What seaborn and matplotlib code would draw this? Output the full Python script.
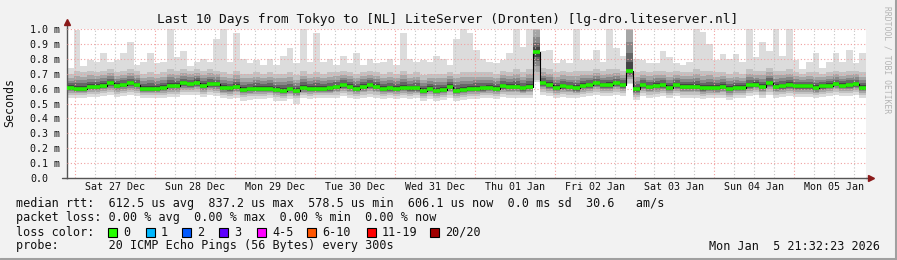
import numpy as np
import pandas as pd
import matplotlib
matplotlib.use("Agg")
import matplotlib.pyplot as plt
import matplotlib.dates as mdates
from matplotlib.patches import Rectangle
from matplotlib.lines import Line2D
import seaborn as sns

# ---------------- data ----------------
title = "Last 10 Days from Tokyo to [NL] LiteServer (Dronten) [lg-dro.liteserver.nl]"
start = "2025-12-26 21:32"
end = "2026-01-05 21:32"
bin_hours = 2

median = [0.606, 0.600, 0.600, 0.613, 0.613, 0.620, 0.635, 0.620, 0.625, 0.635,
          0.625, 0.600, 0.600, 0.600, 0.605, 0.620, 0.618, 0.635, 0.630, 0.640,
          0.620, 0.631, 0.630, 0.606, 0.602, 0.610, 0.591, 0.595, 0.600, 0.600,
          0.600, 0.591, 0.586, 0.595, 0.585, 0.605, 0.600, 0.600, 0.600, 0.602,
          0.610, 0.624, 0.613, 0.600, 0.613, 0.624, 0.613, 0.598, 0.602, 0.598,
          0.607, 0.602, 0.602, 0.586, 0.598, 0.586, 0.591, 0.613, 0.586, 0.591,
          0.598, 0.600, 0.602, 0.607, 0.598, 0.617, 0.613, 0.610, 0.602, 0.613,
          0.843, 0.635, 0.624, 0.607, 0.615, 0.610, 0.602, 0.620, 0.624, 0.635,
          0.624, 0.624, 0.635, 0.624, 0.720, 0.595, 0.624, 0.610, 0.620, 0.624,
          0.607, 0.624, 0.613, 0.613, 0.613, 0.602, 0.607, 0.605, 0.613, 0.598,
          0.607, 0.607, 0.622, 0.627, 0.613, 0.635, 0.613, 0.617, 0.624, 0.615,
          0.615, 0.615, 0.605, 0.615, 0.620, 0.633, 0.620, 0.624, 0.630, 0.607]

ping_max = [0.74, 0.99, 0.75, 0.79, 0.78, 0.84, 0.78, 0.79, 0.84, 0.915,
            0.76, 0.78, 0.84, 0.77, 0.78, 1.00, 0.81, 0.85, 0.75, 0.78,
            0.80, 0.78, 0.93, 1.00, 0.78, 0.97, 0.80, 0.77, 0.79, 0.76,
            0.80, 0.76, 0.82, 0.87, 0.77, 1.00, 0.78, 0.97, 0.78, 0.80,
            0.76, 0.82, 0.77, 0.84, 0.76, 0.80, 0.77, 0.78, 0.80, 0.76,
            0.97, 0.80, 0.78, 0.79, 0.78, 0.82, 0.80, 0.76, 0.93, 1.00,
            0.97, 0.86, 0.80, 0.78, 0.77, 0.79, 0.84, 1.00, 0.88, 1.00,
            1.05, 0.85, 0.86, 0.77, 0.79, 0.77, 1.00, 0.79, 0.79, 0.86,
            0.78, 1.00, 0.87, 0.82, 1.10, 0.80, 0.79, 0.77, 0.77, 0.85,
            0.81, 0.77, 0.76, 0.78, 1.00, 0.98, 0.90, 0.79, 0.83, 0.80,
            0.83, 0.78, 1.00, 0.81, 0.915, 0.85, 1.00, 0.82, 1.00, 0.79,
            0.73, 0.78, 0.84, 0.74, 0.78, 0.84, 0.78, 0.86, 0.77, 0.84]

ping_hi = [0.70, 0.72, 0.71, 0.72, 0.71, 0.72, 0.73, 0.71, 0.72, 0.73,
           0.72, 0.70, 0.71, 0.70, 0.71, 0.73, 0.72, 0.73, 0.72, 0.73,
           0.72, 0.73, 0.72, 0.71, 0.70, 0.72, 0.70, 0.70, 0.71, 0.70,
           0.71, 0.70, 0.70, 0.71, 0.69, 0.72, 0.70, 0.71, 0.70, 0.71,
           0.71, 0.72, 0.71, 0.70, 0.71, 0.72, 0.71, 0.70, 0.71, 0.70,
           0.72, 0.70, 0.71, 0.69, 0.70, 0.70, 0.70, 0.71, 0.70, 0.71,
           0.71, 0.71, 0.71, 0.71, 0.70, 0.72, 0.71, 0.73, 0.71, 0.73,
           1.05, 0.74, 0.73, 0.71, 0.72, 0.71, 0.72, 0.72, 0.72, 0.73,
           0.72, 0.73, 0.73, 0.72, 1.10, 0.71, 0.72, 0.71, 0.72, 0.72,
           0.71, 0.72, 0.71, 0.71, 0.73, 0.72, 0.72, 0.71, 0.71, 0.70,
           0.71, 0.70, 0.73, 0.72, 0.72, 0.74, 0.72, 0.72, 0.73, 0.71,
           0.70, 0.71, 0.71, 0.70, 0.71, 0.72, 0.71, 0.72, 0.72, 0.71]

ping_lo = [0.560, 0.555, 0.555, 0.565, 0.565, 0.570, 0.575, 0.565, 0.570, 0.575,
           0.570, 0.555, 0.555, 0.555, 0.560, 0.565, 0.565, 0.575, 0.575, 0.580,
           0.565, 0.575, 0.570, 0.555, 0.550, 0.560, 0.545, 0.550, 0.550, 0.550,
           0.555, 0.545, 0.540, 0.550, 0.535, 0.555, 0.550, 0.555, 0.555, 0.555,
           0.560, 0.570, 0.560, 0.550, 0.560, 0.565, 0.560, 0.550, 0.555, 0.550,
           0.555, 0.550, 0.555, 0.540, 0.550, 0.540, 0.545, 0.560, 0.540, 0.545,
           0.550, 0.550, 0.555, 0.555, 0.550, 0.565, 0.560, 0.560, 0.555, 0.560,
           0.660, 0.580, 0.570, 0.555, 0.565, 0.560, 0.555, 0.565, 0.570, 0.580,
           0.570, 0.570, 0.580, 0.570, 0.640, 0.545, 0.570, 0.560, 0.565, 0.570,
           0.555, 0.570, 0.560, 0.560, 0.560, 0.550, 0.555, 0.555, 0.560, 0.545,
           0.555, 0.555, 0.570, 0.575, 0.560, 0.580, 0.560, 0.565, 0.570, 0.565,
           0.565, 0.565, 0.555, 0.565, 0.570, 0.580, 0.570, 0.570, 0.575, 0.555]

ping_min = [0.540, 0.535, 0.535, 0.545, 0.545, 0.550, 0.555, 0.545, 0.550, 0.555,
            0.550, 0.535, 0.535, 0.535, 0.540, 0.545, 0.545, 0.555, 0.555, 0.560,
            0.545, 0.555, 0.550, 0.535, 0.530, 0.540, 0.520, 0.525, 0.530, 0.530,
            0.535, 0.520, 0.515, 0.530, 0.500, 0.535, 0.530, 0.535, 0.535, 0.535,
            0.540, 0.550, 0.540, 0.530, 0.540, 0.545, 0.540, 0.530, 0.535, 0.530,
            0.535, 0.530, 0.535, 0.515, 0.530, 0.520, 0.525, 0.540, 0.520, 0.525,
            0.530, 0.530, 0.535, 0.535, 0.530, 0.545, 0.540, 0.540, 0.535, 0.540,
            0.645, 0.560, 0.550, 0.535, 0.545, 0.540, 0.535, 0.545, 0.550, 0.560,
            0.550, 0.550, 0.560, 0.550, 0.630, 0.525, 0.550, 0.540, 0.545, 0.550,
            0.535, 0.550, 0.540, 0.540, 0.540, 0.530, 0.535, 0.535, 0.540, 0.525,
            0.535, 0.535, 0.550, 0.555, 0.540, 0.560, 0.540, 0.545, 0.550, 0.545,
            0.545, 0.545, 0.535, 0.545, 0.550, 0.560, 0.550, 0.550, 0.555, 0.535]

y_ticks = [0.0, 0.1, 0.2, 0.3, 0.4, 0.5, 0.6, 0.7, 0.8, 0.9, 1.0]
y_tick_labels = ["0.0", "0.1 m", "0.2 m", "0.3 m", "0.4 m", "0.5 m",
                 "0.6 m", "0.7 m", "0.8 m", "0.9 m", "1.0 m"]
day_labels = ["Sat 27 Dec", "Sun 28 Dec", "Mon 29 Dec", "Tue 30 Dec", "Wed 31 Dec",
              "Thu 01 Jan", "Fri 02 Jan", "Sat 03 Jan", "Sun 04 Jan", "Mon 05 Jan"]
y_label = "Seconds"
legend_rtt = "median rtt:  612.5 us avg  837.2 us max  578.5 us min  606.1 us now  0.0 ms sd  30.6   am/s"
legend_loss = "packet loss: 0.00 % avg  0.00 % max  0.00 % min  0.00 % now"
legend_color_title = "loss color:"
loss_labels = ["0", "1", "2", "3", "4-5", "6-10", "11-19", "20/20"]
loss_colors = ["#26ff00", "#00b8ff", "#0059ff", "#5e00ff", "#ff00ff", "#ff5500", "#ff0000", "#a10000"]
probe_text = "probe:       20 ICMP Echo Pings (56 Bytes) every 300s"
stamp_text = "Mon Jan  5 21:32:23 2026"
tag_text = "RRDTOOL / TOBI OETIKER"

assert all(len(a) == 120 for a in [median, ping_max, ping_hi, ping_lo, ping_min])

# ---------------- style ----------------
sns.set_theme(style="white")
plt.rcParams["font.family"] = ["DejaVu Sans Mono"]
BG = "#f2f2f2"
W, H = 897, 260

fig = plt.figure(figsize=(W / 100, H / 100), dpi=100, facecolor=BG)
ax = fig.add_axes([67 / W, (H - 178) / H, (866 - 67) / W, (178 - 29) / H])
ax.set_facecolor("white")

t0 = pd.Timestamp(start)
t1 = pd.Timestamp(end)
edges = t0 + pd.to_timedelta(np.arange(len(median) + 1) * bin_hours, unit="h")
xe = mdates.date2num(edges.to_pydatetime())

med = np.array(median)
hi = np.array(ping_hi)
lo = np.array(ping_lo)


def ext(a):
    a = np.asarray(a, dtype=float)
    return np.append(a, a[-1])


# smoke
ax.fill_between(xe, ext(ping_min), ext(ping_max), step="post", color="#dcdcdc", lw=0, zorder=1)
ax.fill_between(xe, ext(lo), ext(hi), step="post", color="#c2c2c2", lw=0, zorder=1.1)
for f, c in zip([0.72, 0.5, 0.32, 0.16], ["#a6a6a6", "#888888", "#666666", "#444444"]):
    ax.fill_between(xe, ext(med - f * (med - lo)), ext(med + f * (hi - med)),
                    step="post", color=c, lw=0, zorder=1.2)

# median: black step connector + green segments
sns.lineplot(x=xe, y=ext(med), drawstyle="steps-post", color="black", lw=0.8,
             ax=ax, zorder=3, legend=False)
ax.hlines(med, xe[:-1], xe[1:], colors="#22ee00", lw=2.6, zorder=4)

ax.set_xlim(xe[0], mdates.date2num(t1.to_pydatetime()))
ax.set_ylim(0, 1.0)

# grid
ax.set_axisbelow(False)
ax.set_yticks(y_ticks)
ax.set_yticklabels(y_tick_labels)
ax.grid(axis="y", which="major", color="#f0a0a0", ls=(0, (1, 2)), lw=0.8, zorder=2.5)
six = pd.date_range(t0.ceil("6h"), t1, freq="6h")
minor = [d for d in six if d.hour != 0]
days = [d for d in six if d.hour == 0]
for d in minor:
    ax.axvline(mdates.date2num(d.to_pydatetime()), color="#c4c4c4", ls=(0, (1, 2)), lw=0.8, zorder=2.5)
for d in days:
    ax.axvline(mdates.date2num(d.to_pydatetime()), color="#f0a0a0", ls=(0, (1, 2)), lw=0.8, zorder=2.5)

noon = [d + pd.Timedelta(hours=12) for d in days]
ax.set_xticks(mdates.date2num([d.to_pydatetime() for d in noon]))
ax.set_xticklabels(day_labels)
ax.tick_params(axis="x", which="major", length=0, pad=3, labelsize=7.2, colors="#111111")
ax.tick_params(axis="y", which="major", length=0, pad=26.6, labelsize=7.2, colors="#111111")
for lab in ax.get_yticklabels():
    lab.set_horizontalalignment("left")

for s in ["top", "right"]:
    ax.spines[s].set_visible(False)
for s in ["left", "bottom"]:
    ax.spines[s].set_color("#555555")
    ax.spines[s].set_linewidth(1.0)

# axis extensions & arrows
ax.add_line(Line2D([0, 0], [1.0, 1.035], transform=ax.transAxes, color="#555555", lw=1, clip_on=False))
ax.add_line(Line2D([-5 / 799, 0], [0, 0], transform=ax.transAxes, color="#555555", lw=1, clip_on=False))
ax.add_line(Line2D([1.0, 1.004], [0, 0], transform=ax.transAxes, color="#555555", lw=1, clip_on=False))
ax.plot([0], [1.045], marker="^", color="#8b1a1a", ms=4, transform=ax.transAxes, clip_on=False, zorder=6)
ax.plot([1.0065], [0], marker=">", color="#8b1a1a", ms=4, transform=ax.transAxes, clip_on=False, zorder=6)

# texts
def fx(px):
    return px / W


def fy(py):
    return 1 - py / H


fig.text(fx(448), fy(19), title, ha="center", va="center", fontsize=9.3, color="#111111")
fig.text(fx(10), fy(103), y_label, ha="center", va="center", rotation=90, fontsize=8.4, color="#111111")
fig.text(fx(887), fy(60), tag_text, ha="center", va="center", rotation=270, fontsize=5.8, color="#b4b4b4")

fig.text(fx(16), fy(204), legend_rtt, ha="left", va="center", fontsize=8.5, color="#111111")
fig.text(fx(16), fy(218), legend_loss, ha="left", va="center", fontsize=8.5, color="#111111")
fig.text(fx(16), fy(232), legend_color_title, ha="left", va="center", fontsize=8.5, color="#111111")
box_x = [108, 146, 182, 219, 257, 307, 367, 430]
for bx, lab, col in zip(box_x, loss_labels, loss_colors):
    fig.patches.append(Rectangle((fx(bx), fy(236.5)), 9 / W, 9 / H, transform=fig.transFigure,
                                 facecolor=col, edgecolor="black", lw=0.8))
    fig.text(fx(bx + 15), fy(232), lab, ha="left", va="center", fontsize=8.5, color="#111111")
fig.text(fx(16), fy(246), probe_text, ha="left", va="center", fontsize=8.5, color="#111111")
fig.text(fx(880), fy(246), stamp_text, ha="right", va="center", fontsize=8.5, color="#111111")

# frame shading
fig.add_artist(Line2D([fx(895.5), fx(895.5)], [0, 1], transform=fig.transFigure, color="#a0a0a0", lw=2.2))
fig.add_artist(Line2D([0, 1], [fy(258.5), fy(258.5)], transform=fig.transFigure, color="#a0a0a0", lw=2.2))

fig.savefig("out.png", dpi=100, facecolor=BG)
